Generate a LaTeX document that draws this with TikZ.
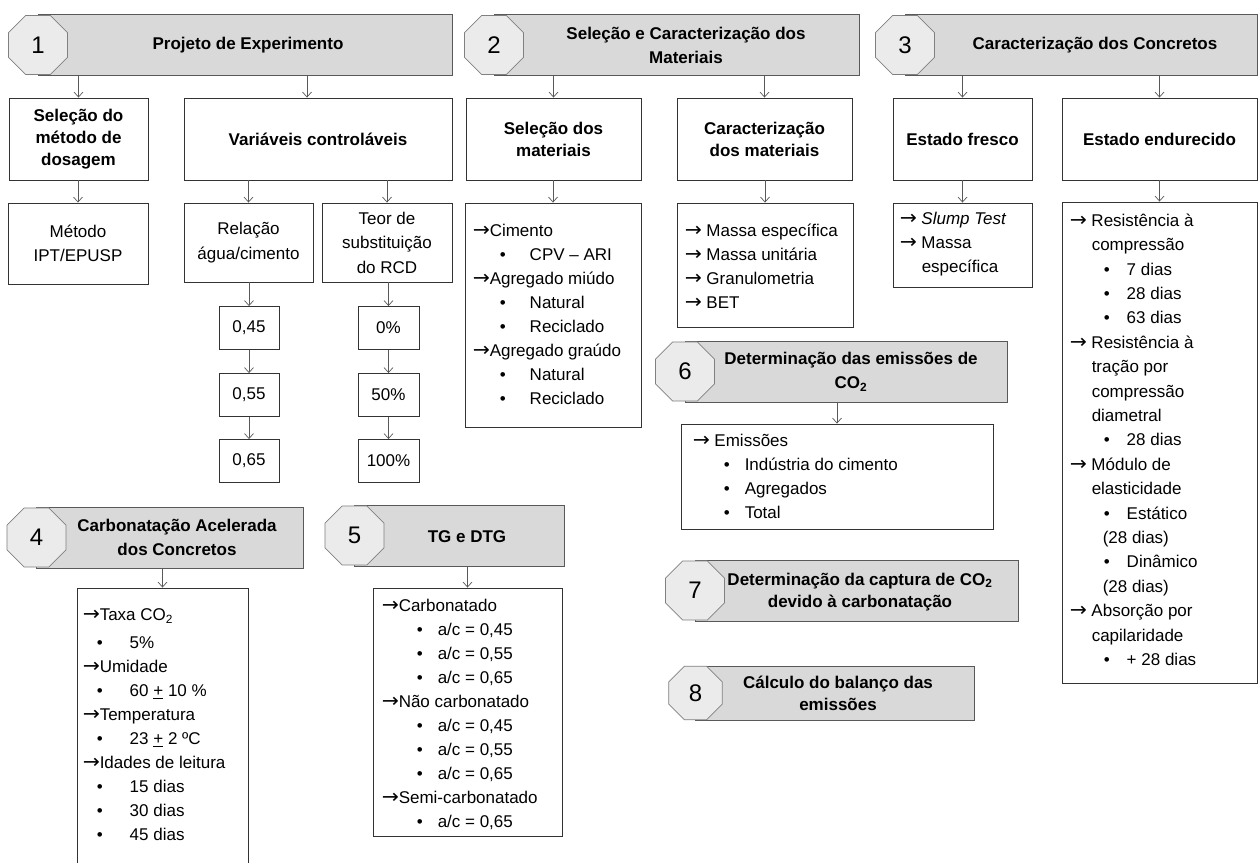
\documentclass[tikz,border=0pt]{standalone}
\usepackage{fontspec}
\setmainfont{Liberation Sans}
\newfontfamily\arrowfont{DejaVu Sans}
\usetikzlibrary{arrows.meta,shapes.geometric}

\newcommand{\lstfont}{\fontsize{17}{24}\selectfont}
\newcommand{\itm}[2]{\hspace*{#1}\makebox[#2][l]{\textbullet}}
\newcommand{\arr}{\makebox[17pt][l]{\scalebox{1.2}[1.15]{\arrowfont →}}}

\tikzset{
  hdrbar/.style={draw=black!65, line width=0.9pt, fill=black!15, inner sep=0pt, minimum height=61pt},
  octo/.style={regular polygon, regular polygon sides=8, minimum size=64pt, draw=black!50, line width=0.7pt,
    fill=black!8, inner sep=0pt, font=\fontsize{24}{24}\selectfont},
  hdrtext/.style={align=center, inner sep=0pt, font=\bfseries\fontsize{17}{24}\selectfont},
  stagebox/.style={draw=black!80, line width=0.9pt, fill=white, inner sep=0pt, align=center},
  listtxt/.style={anchor=north west, inner sep=0pt, align=left, font=\lstfont},
  >={Straight Barb[length=5pt,width=9pt]},
  seta/.style={->, draw=black!65, line width=0.7pt},
}

\begin{document}
\begin{tikzpicture}[x=1pt,y=-1pt]
  \useasboundingbox (0,0) rectangle (1258,862);

  % etapas 1, 2 e 3
  \node[hdrbar, minimum width=414pt] (h1) at (245,45) {};
  \node[octo] (n1) at (38,45) {1};
  \node[hdrtext] (t1) at (248,45) {Projeto de Experimento};

  \node[hdrbar, minimum width=365pt] (h2) at (676.5,45) {};
  \node[octo] (n2) at (494,45) {2};
  \node[hdrtext] (t2) at (686,45) {Seleção e Caracterização dos\\Materiais};

  \node[hdrbar, minimum width=352pt] (h3) at (1081,45) {};
  \node[octo] (n3) at (905,45) {3};
  \node[hdrtext] (t3) at (1095,45) {Caracterização dos Concretos};

  % segundo nivel
  \begin{scope}[every node/.append style={font=\bfseries\fontsize{17}{22}\selectfont, minimum height=82pt}]
    \node[stagebox, minimum width=139pt] (b11) at (78.5,139) {Seleção do\\método de\\dosagem};
    \node[stagebox, minimum width=268pt] (b12) at (318,139) {Variáveis controláveis};
    \node[stagebox, minimum width=175pt] (b21) at (553.5,139) {Seleção dos\\materiais};
    \node[stagebox, minimum width=175pt] (b22) at (764.5,139) {Caracterização\\dos materiais};
    \node[stagebox, minimum width=139pt] (b31) at (962.5,139) {Estado fresco};
    \node[stagebox, minimum width=195pt] (b32) at (1159.5,139) {Estado endurecido};
  \end{scope}

  \coordinate (c12) at ([xshift=-11pt]b12.north);
  \draw[seta] (h1.south -| b11.north) -- (b11.north);
  \draw[seta] (h1.south -| c12) -- (c12);
  \draw[seta] (h2.south -| b21.north) -- (b21.north);
  \draw[seta] (h2.south -| b22.north) -- (b22.north);
  \draw[seta] (h3.south -| b31.north) -- (b31.north);
  \draw[seta] (h3.south -| b32.north) -- (b32.north);

  % variaveis
  \begin{scope}[every node/.append style={font=\fontsize{17}{24.5}\selectfont}]
    \node[stagebox, minimum width=140pt, minimum height=81pt] (m11) at (78,243.5) {Método\\IPT/EPUSP};
    \node[stagebox, minimum width=129pt, minimum height=79pt] (m12) at (248.5,242.5) {Relação\\água/cimento};
    \node[stagebox, minimum width=130pt, minimum height=79pt] (m13) at (387,242.5) {Teor de\\substituição\\do RCD};
    \node[stagebox, minimum width=60pt, minimum height=43pt] (v1) at (249,328) {0,45};
    \node[stagebox, minimum width=60pt, minimum height=43pt] (v2) at (249,395) {0,55};
    \node[stagebox, minimum width=60pt, minimum height=43pt] (v3) at (249,461) {0,65};
    \node[stagebox, minimum width=61pt, minimum height=43pt] (p1) at (388.5,328) {0\%};
    \node[stagebox, minimum width=61pt, minimum height=43pt] (p2) at (388.5,395) {50\%};
    \node[stagebox, minimum width=61pt, minimum height=43pt] (p3) at (388.5,461) {100\%};
  \end{scope}

  \draw[seta] (b11.south -| m11.north) -- (m11.north);
  \draw[seta] (b12.south -| m12.north) -- (m12.north);
  \draw[seta] (b12.south -| m13.north) -- (m13.north);
  \draw[seta] (m12.south -| v1.north) -- (v1.north);
  \draw[seta] (v1.south) -- (v2.north);
  \draw[seta] (v2.south) -- (v3.north);
  \draw[seta] (m13.south -| p1.north) -- (p1.north);
  \draw[seta] (p1.south) -- (p2.north);
  \draw[seta] (p2.south) -- (p3.north);

  % listas das etapas 2 e 3
  \node[stagebox, minimum width=176pt, minimum height=224pt] (l21) at (553,315) {};
  \node[listtxt] (l21t) at ([shift={(8,21)}]l21.north west)
    {\arr Cimento\\
     \itm{27pt}{30pt}CPV – ARI\\
     \arr Agregado miúdo\\
     \itm{27pt}{30pt}Natural\\
     \itm{27pt}{30pt}Reciclado\\
     \arr Agregado graúdo\\
     \itm{27pt}{30pt}Natural\\
     \itm{27pt}{30pt}Reciclado};

  \node[stagebox, minimum width=176pt, minimum height=124pt] (l22) at (765,265) {};
  \node[listtxt] (l22t) at ([shift={(8,21)}]l22.north west)
    {\arr\ Massa específica\\\arr\ Massa unitária\\\arr\ Granulometria\\\arr\ BET};

  \node[stagebox, minimum width=139pt, minimum height=84pt] (l31) at (962.5,245) {};
  \node[listtxt] (l31t) at ([shift={(7,9)}]l31.north west)
    {\arr\ \textit{Slump Test}\\\arr\ Massa\\\hspace*{22pt}específica};

  \node[stagebox, minimum width=195pt, minimum height=481pt] (l32) at (1159.5,442.5) {};
  \node[listtxt, font=\fontsize{17}{24.4}\selectfont] (l32t) at ([shift={(8,12)}]l32.north west)
    {\arr\ Resistência à\\
     \hspace*{22pt}compressão\\
     \itm{34pt}{23pt}7 dias\\
     \itm{34pt}{23pt}28 dias\\
     \itm{34pt}{23pt}63 dias\\
     \arr\ Resistência à\\
     \hspace*{22pt}tração por\\
     \hspace*{22pt}compressão\\
     \hspace*{22pt}diametral\\
     \itm{34pt}{23pt}28 dias\\
     \arr\ Módulo de\\
     \hspace*{22pt}elasticidade\\
     \itm{34pt}{23pt}Estático\\
     \hspace*{33pt}(28 dias)\\
     \itm{34pt}{23pt}Dinâmico\\
     \hspace*{33pt}(28 dias)\\
     \arr\ Absorção por\\
     \hspace*{22pt}capilaridade\\
     \itm{34pt}{23pt}+ 28 dias};

  \draw[seta] (b21.south -| l21.north) -- (l21.north);
  \draw[seta] (b22.south -| l22.north) -- (l22.north);
  \draw[seta] (b31.south -| l31.north) -- (l31.north);
  \draw[seta] (b32.south -| l32.north) -- (l32.north);

  % etapa 6
  \node[hdrbar, minimum width=322pt] (h6) at (846,371.5) {};
  \node[octo] (n6) at (685,371.5) {6};
  \node[hdrtext] (t6) at (851,372) {Determinação das emissões de\\CO\textsubscript{2}};
  \node[stagebox, minimum width=312pt, minimum height=105pt] (l6) at (837,476.5) {};
  \node[listtxt, font=\fontsize{17}{24.3}\selectfont] (l6t) at ([shift={(12,10)}]l6.north west)
    {\arr\ Emissões\\
     \itm{31pt}{21pt}Indústria do cimento\\
     \itm{31pt}{21pt}Agregados\\
     \itm{31pt}{21pt}Total};
  \draw[seta] (h6.south -| l6.north) -- (l6.north);

  % etapas 7 e 8
  \node[hdrbar, minimum width=323pt] (h7) at (856.5,590.5) {};
  \node[octo] (n7) at (695,590.5) {7};
  \node[hdrtext, font=\bfseries\fontsize{17}{22}\selectfont] (t7) at (860,592) {Determinação da captura de CO\textsubscript{2}\\devido à carbonatação};

  \node[hdrbar, minimum width=279pt, minimum height=54pt] (h8) at (835,693) {};
  \node[octo, minimum size=58pt] (n8) at (695.5,693) {8};
  \node[hdrtext, font=\bfseries\fontsize{17}{22}\selectfont] (t8) at (838,693) {Cálculo do balanço das\\emissões};

  % etapas 4 e 5
  \node[hdrbar, minimum width=267pt] (h4) at (169.5,537.5) {};
  \node[octo] (n4) at (36.5,537.5) {4};
  \node[hdrtext] (t4) at (177,537.5) {Carbonatação Acelerada\\dos Concretos};
  \node[stagebox, minimum width=171pt, minimum height=282pt] (l4) at (162.5,729) {};
  \node[listtxt] (l4t) at ([shift={(6,21)}]l4.north west)
    {\arr Taxa CO\textsubscript{2}\\[4pt]
     \itm{14pt}{33pt}5\%\\
     \arr Umidade\\
     \itm{14pt}{33pt}60 \underline{+} 10 \%\\
     \arr Temperatura\\
     \itm{14pt}{33pt}23 \underline{+} 2 ºC\\
     \arr Idades de leitura\\
     \itm{14pt}{33pt}15 dias\\
     \itm{14pt}{33pt}30 dias\\
     \itm{14pt}{33pt}45 dias};
  \draw[seta] (h4.south -| l4.north) -- (l4.north);

  \node[hdrbar, minimum width=210pt] (h5) at (459,535.5) {};
  \node[octo] (n5) at (354.5,535.5) {5};
  \node[hdrtext] (t5) at (467,537) {TG e DTG};
  \node[stagebox, minimum width=189pt, minimum height=248pt] (l5) at (467.5,712) {};
  \node[listtxt, font=\fontsize{17}{24.1}\selectfont] (l5t) at ([shift={(9,11)}]l5.north west)
    {\arr Carbonatado\\
     \itm{35pt}{21pt}a/c = 0,45\\
     \itm{35pt}{21pt}a/c = 0,55\\
     \itm{35pt}{21pt}a/c = 0,65\\
     \arr Não carbonatado\\
     \itm{35pt}{21pt}a/c = 0,45\\
     \itm{35pt}{21pt}a/c = 0,55\\
     \itm{35pt}{21pt}a/c = 0,65\\
     \arr Semi-carbonatado\\
     \itm{35pt}{21pt}a/c = 0,65};
  \draw[seta] (h5.south -| l5.north) -- (l5.north);
\end{tikzpicture}
\end{document}
